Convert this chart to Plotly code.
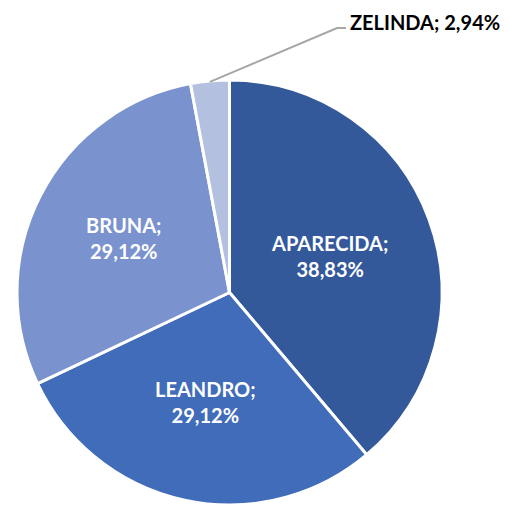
import numpy as np
import plotly.graph_objects as go

labels = ["APARECIDA", "LEANDRO", "BRUNA", "ZELINDA"]
values = [38.83, 29.12, 29.12, 2.94]
pct_text = ["38,83%", "29,12%", "29,12%", "2,94%"]
colors = ["#33599B", "#406CB9", "#7A92CE", "#B4C0E0"]

W, H = 510, 505
cx, cy, R = 229.5, 292.5, 212.5  # pixel centre / radius
label_r = [0.5, 0.525, 0.56]  # radial placement of inside labels (fraction of R)

fig = go.Figure(go.Pie(
    labels=labels, values=values, sort=False, direction="clockwise",
    rotation=0, textinfo="none", hoverinfo="label+percent",
    marker=dict(colors=colors, line=dict(color="white", width=3)),
    domain=dict(x=[(cx - R) / W, (cx + R) / W], y=[max(0, 1 - (cy + R) / H), 1 - (cy - R) / H]),
    showlegend=False,
))

vals = np.array(values)
cum = np.cumsum(vals) - vals / 2
mid = cum / vals.sum() * 2 * np.pi  # clockwise from top
font = "Lato, 'Open Sans', sans-serif"
annotations = []
shapes = []
for i, (lab, pt) in enumerate(zip(labels, pct_text)):
    if i < 3:
        px = cx + label_r[i] * R * np.sin(mid[i])
        py = cy - label_r[i] * R * np.cos(mid[i])
        annotations.append(dict(
            x=px / W, y=1 - py / H, xref="paper", yref="paper",
            xanchor="center", yanchor="middle",
            text=f"{lab};<br>{pt}", showarrow=False,
            font=dict(family=font, size=20, color="white", weight="bold"),
            align="center"))
    else:
        ex = cx + R * np.sin(mid[i])
        ey = cy - R * np.cos(mid[i])
        pts = [(ex, ey + 1), (337, 28), (346, 28)]
        path = "M " + " L ".join(f"{x / W},{1 - y / H}" for x, y in pts)
        shapes.append(dict(type="path", path=path, xref="paper", yref="paper",
                           line=dict(color="#A6A6A6", width=2)))
        annotations.append(dict(
            x=348 / W, y=1 - 22 / H, xref="paper", yref="paper",
            xanchor="left", yanchor="middle",
            text=f"{lab}; {pt}", showarrow=False,
            font=dict(family=font, size=20, color="black", weight="bold")))

fig.update_layout(
    width=W, height=H, margin=dict(l=0, r=0, t=0, b=0),
    paper_bgcolor="white", plot_bgcolor="white",
    annotations=annotations, shapes=shapes,
)
fig.write_html("out.html")
